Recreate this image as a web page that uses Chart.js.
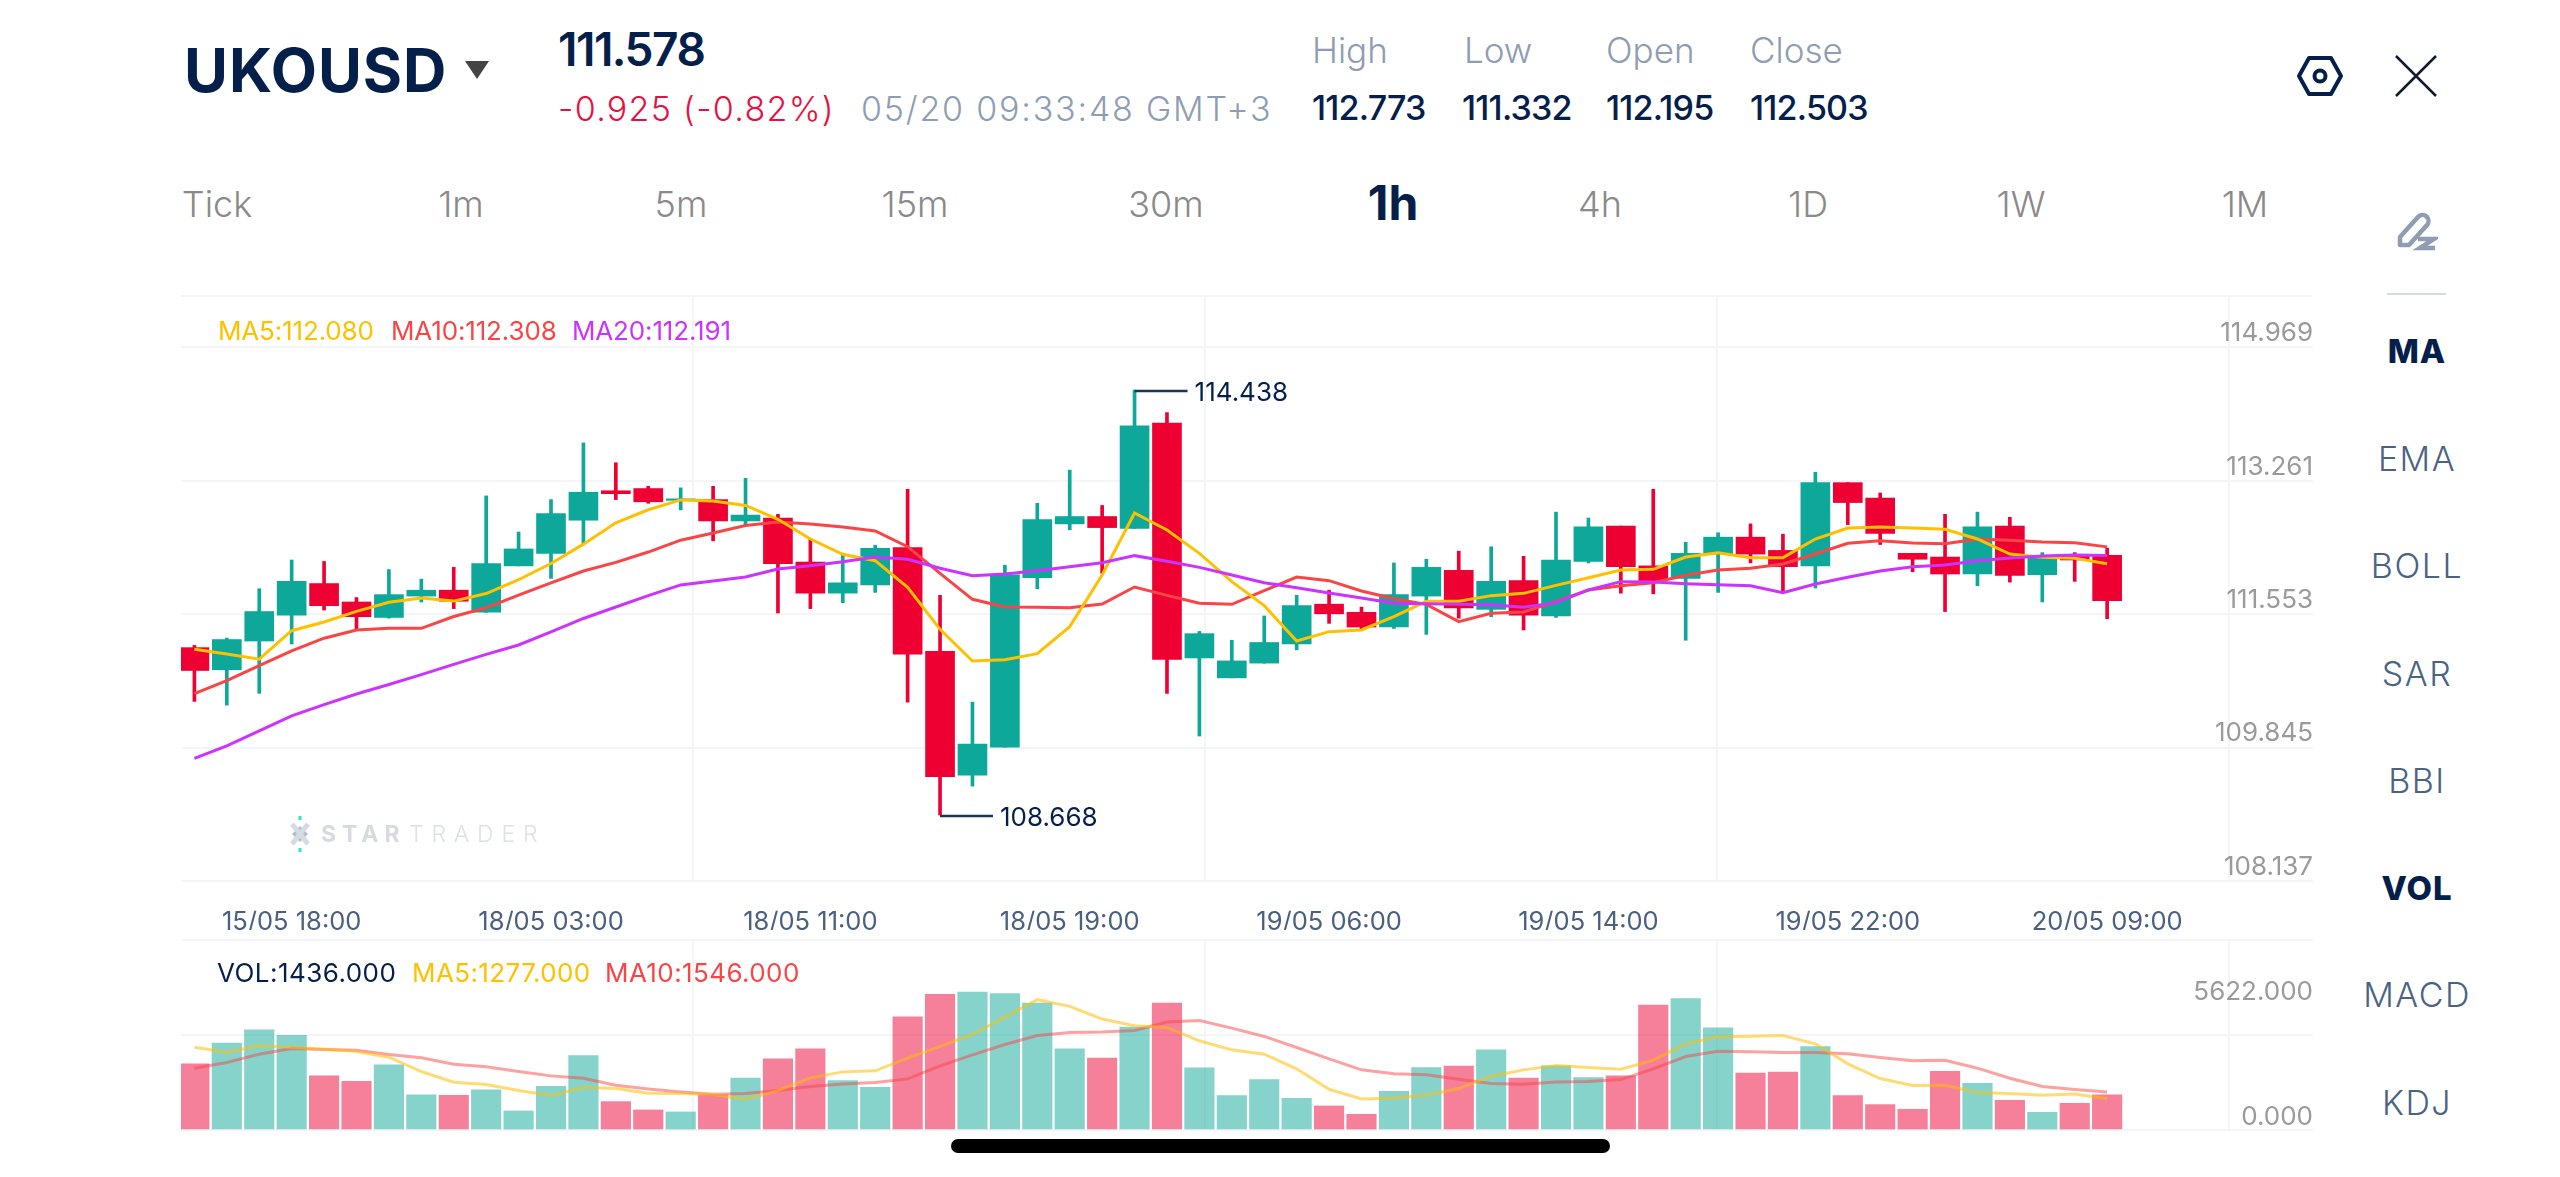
<!DOCTYPE html>
<html>
<head>
<meta charset="utf-8">
<title>UKOUSD 1h</title>
<script src="https://cdn.jsdelivr.net/npm/chart.js@4/dist/chart.umd.min.js"></script>
<style>
  html, body { margin: 0; padding: 0; background: #fff; }
  body { width: 2560px; height: 1177px; position: relative; overflow: hidden; font-family: Inter, sans-serif; }
  canvas { position: absolute; }
  .t { position: absolute; white-space: nowrap; line-height: 1; transform: translateY(-50%); }
  .c { transform: translate(-50%, -50%); }
  .navy { color: #04204a; }
  .slate { color: #8e9db3; font-weight: 300; }
  .tf { color: #8a8a8a; font-size: 36px; font-weight: 300; top: 204px; }
  .ind { color: #4a6385; font-size: 34px; font-weight: 300; left: 2417px; letter-spacing: 1.5px; }
  .ind.on { color: #04204a; font-weight: 800; font-size: 33px; letter-spacing: 1px; }
  .stat { color: #04204a; font-size: 34px; font-weight: 500; top: 108px; letter-spacing: -0.8px; }
  .lab { font-size: 35px; top: 50px; }
  .leg { font-size: 26px; font-weight: 400; letter-spacing: -.15px; }
</style>
</head>
<body>

<div class="t navy" style="left:184px;top:70px;font-size:60px;font-weight:700;letter-spacing:1px;">UKOUSD</div>
<svg style="position:absolute;left:465px;top:61px" width="24" height="18"><path d="M0 0H24L12 18Z" fill="#444"/></svg>
<div class="t navy" style="left:558px;top:49px;font-size:46px;font-weight:600;letter-spacing:-1.5px;">111.578</div>
<div class="t" style="left:558px;top:109px;font-size:34px;font-weight:300;color:#e8103f;letter-spacing:1.3px;">-0.925 (-0.82%)</div>
<div class="t slate" style="left:861px;top:109px;font-size:34px;letter-spacing:1.8px;">05/20 09:33:48 GMT+3</div>

<div class="t slate lab" style="left:1312px;">High</div>
<div class="t slate lab" style="left:1464px;">Low</div>
<div class="t slate lab" style="left:1606px;">Open</div>
<div class="t slate lab" style="left:1750px;">Close</div>
<div class="t stat" style="left:1312px;">112.773</div>
<div class="t stat" style="left:1462px;">111.332</div>
<div class="t stat" style="left:1606px;">112.195</div>
<div class="t stat" style="left:1750px;">112.503</div>

<svg style="position:absolute;left:2290px;top:50px" width="60" height="52" fill="none" stroke="#04204a" stroke-width="4">
  <path d="M19 8H41L51 26L41 44H19L9 26Z" stroke-linejoin="round"/><circle cx="30" cy="26" r="5.5"/>
</svg>
<svg style="position:absolute;left:2392px;top:52px" width="48" height="48" stroke="#111a2c" stroke-width="2.5">
  <path d="M4 4L44 44M44 4L4 44"/>
</svg>
<svg style="position:absolute;left:2396px;top:210px" width="42" height="44" fill="none">
  <path d="M4 27L22 7a6 6 0 0 1 9 8L13 35H4Z" stroke="#8e9db3" stroke-width="4.5" stroke-linejoin="round"/>
  <path d="M22 29H38L24 38H39" stroke="#8e9db3" stroke-width="4.5"/>
</svg>
<div style="position:absolute;left:2387px;top:293px;width:59px;height:2px;background:#d5dae3;"></div>

<div class="t c tf" style="left:217px;">Tick</div>
<div class="t c tf" style="left:461px;">1m</div>
<div class="t c tf" style="left:681px;">5m</div>
<div class="t c tf" style="left:915px;">15m</div>
<div class="t c tf" style="left:1166px;">30m</div>
<div class="t c navy" style="left:1393px;top:203px;font-size:48px;font-weight:700;">1h</div>
<div class="t c tf" style="left:1600px;">4h</div>
<div class="t c tf" style="left:1808px;">1D</div>
<div class="t c tf" style="left:2021px;">1W</div>
<div class="t c tf" style="left:2245px;">1M</div>

<div class="t c ind on" style="top:351px;">MA</div>
<div class="t c ind" style="top:459px;">EMA</div>
<div class="t c ind" style="top:566px;">BOLL</div>
<div class="t c ind" style="top:674px;">SAR</div>
<div class="t c ind" style="top:781px;">BBI</div>
<div class="t c ind on" style="top:888px;">VOL</div>
<div class="t c ind" style="top:995px;">MACD</div>
<div class="t c ind" style="top:1103px;">KDJ</div>

<canvas id="price-chart" width="2132" height="636" style="left:181px;top:294px"></canvas>
<canvas id="volume-chart" width="2132" height="194" style="left:181px;top:938px"></canvas>

<div class="t leg" style="left:218px;top:331px;color:#ffc000;">MA5:112.080</div>
<div class="t leg" style="left:391px;top:331px;color:#f94545;">MA10:112.308</div>
<div class="t leg" style="left:572px;top:331px;color:#cc33ff;">MA20:112.191</div>
<div class="t leg" style="left:217px;top:973px;color:#04204a;letter-spacing:.45px;">VOL:1436.000</div>
<div class="t leg" style="left:412px;top:973px;color:#ffc000;letter-spacing:.4px;">MA5:1277.000</div>
<div class="t leg" style="left:605px;top:973px;color:#f94545;letter-spacing:.4px;">MA10:1546.000</div>

<!-- watermark -->
<svg style="position:absolute;left:284px;top:816px" width="32" height="36">
  <path d="M16 10L24 18L16 26L8 18Z" fill="#b4bccb"/>
  <path d="M8 8L24 28M24 8L8 28" stroke="#d5dae3" stroke-width="5"/>
  <rect x="14.5" y="0" width="3" height="4" fill="#3fdcdc"/><rect x="14.5" y="32" width="3" height="4" fill="#3fdcdc"/>
</svg>
<div class="t" style="left:321px;top:834px;font-size:23px;font-weight:700;color:#d5dae3;letter-spacing:6px;">STAR</div>
<div class="t" style="left:409px;top:834px;font-size:23px;font-weight:300;color:#dde1e8;letter-spacing:7.8px;">TRADER</div>

<!-- home bar -->
<div style="position:absolute;left:951px;top:1139px;width:659px;height:14px;border-radius:7px;background:#000;"></div>

<script>
// hourly candles, oldest first
const opens = [110.94,110.64,111.03,111.38,111.81,111.56,111.35,111.64,111.72,111.42,
  112.05,112.22,112.67,113.07,113.10,112.94,112.95,112.66,112.70,112.10,
  111.68,111.79,112.30,110.89,109.21,109.59,111.89,112.62,112.72,112.56,
  113.99,110.80,110.53,110.73,110.99,111.53,111.42,111.22,111.64,111.99,
  111.46,111.85,111.37,112.11,112.59,112.05,111.88,112.21,112.44,112.26,
  112.05,113.18,112.97,112.22,112.17,111.94,112.59,111.93,112.20,112.195];
const highs = [110.97,111.07,111.74,112.13,112.11,111.62,112.00,111.87,112.03,113.00,
  112.51,112.95,113.72,113.45,113.13,113.11,113.13,113.24,112.75,112.42,
  112.20,112.33,113.09,111.65,110.20,112.06,112.90,113.35,112.87,114.438,
  114.13,111.16,111.04,111.37,111.65,111.72,111.49,112.09,112.14,112.25,
  112.31,112.18,112.78,112.70,112.59,113.09,112.37,112.50,112.62,112.48,
  113.32,113.18,113.04,112.22,112.75,112.78,112.71,112.23,112.23,112.29];
const lows = [110.21,110.16,110.32,110.99,111.45,111.18,111.34,111.56,111.47,111.42,
  112.05,111.88,112.35,112.95,112.90,112.81,112.39,112.61,111.41,111.47,
  111.55,111.69,110.20,108.668,109.06,109.59,111.74,112.54,111.95,112.56,
  110.32,109.74,110.53,110.73,110.91,111.27,111.19,111.20,111.12,111.34,
  111.36,111.18,111.35,112.09,111.68,111.67,111.04,111.69,112.09,111.70,
  111.75,112.61,112.34,111.97,111.43,111.78,111.83,111.56,111.84,111.332];
const closes = [110.63,111.05,111.43,111.84,111.51,111.36,111.66,111.72,111.57,112.08,
  112.28,112.76,113.05,113.03,112.92,112.96,112.66,112.74,112.08,111.68,
  111.82,112.29,110.85,109.19,109.63,111.93,112.68,112.72,112.57,113.95,
  110.78,111.13,110.76,111.01,111.51,111.40,111.22,111.66,112.03,111.48,
  111.84,111.38,112.13,112.58,112.04,111.85,112.22,112.44,112.21,112.04,
  113.18,112.91,112.49,112.14,111.94,112.58,111.92,112.19,112.13,111.578];

const ma5 = [110.917,110.853,110.783,111.170,111.288,111.433,111.556,111.615,111.572,111.674,
  111.862,112.082,112.345,112.635,112.812,112.946,112.930,112.871,112.683,112.415,
  112.207,112.121,111.759,111.189,110.759,110.777,110.858,111.225,111.926,112.768,
  112.537,112.220,111.836,111.510,111.030,111.157,111.180,111.361,111.569,111.569,
  111.646,111.677,111.786,111.890,111.994,112.003,112.171,112.229,112.162,112.162,
  112.415,112.564,112.578,112.564,112.546,112.415,112.211,112.166,112.153,112.080];
const ma10 = [110.316,110.493,110.697,110.896,111.068,111.180,111.202,111.202,111.363,111.481,
  111.653,111.819,111.980,112.098,112.238,112.399,112.496,112.597,112.646,112.619,
  112.578,112.524,112.311,111.949,111.596,111.492,111.487,111.483,111.532,111.763,
  111.650,111.542,111.528,111.713,111.899,111.849,111.709,111.605,111.528,111.293,
  111.406,111.424,111.564,111.723,111.781,111.822,111.922,111.994,112.017,112.076,
  112.211,112.356,112.392,112.361,112.352,112.415,112.397,112.374,112.365,112.308];
const ma20 = [109.436,109.607,109.811,110.015,110.166,110.311,110.440,110.574,110.713,110.848,
  110.976,111.154,111.336,111.492,111.647,111.792,111.846,111.900,112.007,112.053,
  112.107,112.171,112.139,112.017,111.917,111.940,111.985,112.039,112.094,112.189,
  112.112,112.030,111.926,111.822,111.754,111.682,111.614,111.542,111.537,111.528,
  111.523,111.487,111.551,111.723,111.836,111.831,111.809,111.795,111.781,111.686,
  111.804,111.895,111.981,112.039,112.062,112.121,112.157,112.184,112.198,112.191];

const volumes = [2695,3539,4083,3852,2205,1987,2654,1429,1415,1633,
  776,1783,3035,1157,817,735,1429,2110,2899,3307,
  2014,1742,4614,5526,5622,5553,5172,3307,2926,4192,
  5172,2531,1402,2055,1293,980,640,1579,2545,2600,
  3266,2110,2613,2137,2205,5090,5349,4165,2314,2355,
  3403,1402,1034,844,2395,1905,1211,721,1089,1436];
const volMa5 = [3375,3171,3430,3375,3294,3198,2967,2382,1946,1851,
  1606,1402,1742,1688,1497,1483,1443,1252,1606,2123,
  2368,2409,2926,3403,3892,4600,5308,5036,4519,4246,
  4178,3634,3266,3089,2491,1660,1266,1307,1415,1688,
  2191,2450,2627,2545,2477,2844,3498,3797,3824,3852,
  3511,2695,2096,1810,1824,1524,1483,1415,1470,1277];
const volMa10 = [2518,2749,3089,3321,3280,3253,3076,2940,2681,2572,
  2382,2205,2110,1824,1674,1552,1456,1483,1606,1769,
  1878,1933,2082,2613,3062,3484,3852,3974,3988,4056,
  4396,4464,4151,3811,3362,2899,2450,2287,2246,2069,
  1892,1865,1960,1973,2055,2491,2994,3212,3185,3158,
  3158,3103,2953,2817,2844,2518,2110,1769,1647,1546];

// bottom axis: label every 8th candle
const timeIndexes = [3, 11, 19, 27, 35, 43, 51, 59];
const timeLabels = ['15/05 18:00', '18/05 03:00', '18/05 11:00', '18/05 19:00',
  '19/05 06:00', '19/05 14:00', '19/05 22:00', '20/05 09:00'];

const priceTicks = [108.137, 109.845, 111.553, 113.261, 114.969];
const priceRailTop = 115.627;
const volumeTicks = [0, 5622];
const volumeGrid = [3870, 7740];

const UP = '#0ea89a', DOWN = '#ee0033';
const UP_SOFT = 'rgba(14,168,154,.5)', DOWN_SOFT = 'rgba(238,0,51,.5)';
const GRID = '#f4f5f7';
const FONT = 'Inter, sans-serif';

const XMIN = -0.4133, XMAX = 65.35;
const isUp = i => closes[i] >= opens[i];
const points = arr => arr.map((y, x) => ({ x, y }));

function line(data, color, yAxisID, order, width) {
  return { type: 'line', data: points(data), borderColor: color, borderWidth: width || 3,
    pointRadius: 0, tension: 0, yAxisID, xAxisID: 'x', order };
}

// the layout otherwise reserves room for half a label at each axis end
function pin(scale, width, height) {
  if (width !== undefined) scale.width = width;
  if (height !== undefined) scale.height = height;
  scale.paddingTop = scale.paddingBottom = scale.paddingLeft = scale.paddingRight = 0;
}

// light vertical lines, shared by both panels
const railAxis = {
  type: 'linear', position: 'top', min: 0, max: 4.164,
  grid: { color: GRID, lineWidth: 2, drawTicks: false },
  border: { display: false },
  ticks: { display: false },
  afterBuildTicks: s => { s.ticks = [1, 2, 3, 4].map(value => ({ value })); },
  afterFit: s => pin(s, undefined, 0)
};

// 114.438 / 108.668 callouts on the extreme wicks
const extremes = {
  id: 'extremes',
  afterDatasetsDraw(chart) {
    const { ctx, scales } = chart;
    const hi = highs.indexOf(Math.max(...highs));
    const lo = lows.indexOf(Math.min(...lows));
    [[hi, highs[hi]], [lo, lows[lo]]].forEach(([i, v]) => {
      const x = scales.x.getPixelForValue(i), y = scales.y.getPixelForValue(v);
      ctx.save();
      ctx.strokeStyle = '#1f3557';
      ctx.lineWidth = 2.5;
      ctx.beginPath();
      ctx.moveTo(x, y + 1);
      ctx.lineTo(x + 53, y + 1);
      ctx.stroke();
      ctx.fillStyle = '#04204a';
      ctx.font = '400 26px ' + FONT;
      ctx.textBaseline = 'middle';
      ctx.fillText(v.toFixed(3), x + 60, y + 3);
      ctx.restore();
    });
  }
};

new Chart(document.getElementById('price-chart'), {
  data: {
    datasets: [
      line(ma20, '#cc33ff', 'y', 1),
      line(ma5, '#ffc000', 'y', 2),
      line(ma10, '#f94545', 'y', 3),
      { type: 'bar', grouped: false, order: 4, barThickness: 29, xAxisID: 'x', yAxisID: 'y',
        data: opens.map((o, i) => ({ x: i, y: [o, closes[i]] })),
        backgroundColor: opens.map((o, i) => isUp(i) ? UP : DOWN) },
      { type: 'bar', grouped: false, order: 5, barThickness: 3, xAxisID: 'x', yAxisID: 'y',
        data: lows.map((l, i) => ({ x: i, y: [l, highs[i]] })),
        backgroundColor: lows.map((l, i) => isUp(i) ? UP : DOWN) }
    ]
  },
  plugins: [extremes],
  options: {
    responsive: false, animation: false, events: [],
    layout: { padding: { top: 2 } },
    plugins: { legend: { display: false }, tooltip: { enabled: false } },
    scales: {
      x: {
        type: 'linear', position: 'bottom', min: XMIN, max: XMAX, offset: false,
        grid: { display: false }, border: { display: false },
        afterBuildTicks: s => { s.ticks = timeIndexes.map(value => ({ value })); },
        afterFit: s => pin(s, undefined, 49),
        ticks: {
          autoSkip: false, maxRotation: 0, padding: 18, color: '#4a6080',
          font: { family: FONT, size: 25.5, weight: '400' },
          callback: v => timeLabels[timeIndexes.indexOf(v)]
        }
      },
      xRail: railAxis,
      // candles and moving averages
      y: { display: false, min: 107.772, max: 115.714 },
      // price rail on the right, labels sit just above their lines
      yRail: {
        type: 'linear', position: 'right', min: 108.137, max: priceRailTop,
        grid: { color: GRID, lineWidth: 2, drawTicks: false },
        border: { display: false },
        afterBuildTicks: s => { s.ticks = [...priceTicks, priceRailTop].map(value => ({ value })); },
        afterFit: s => pin(s, 0),
        ticks: {
          autoSkip: false, mirror: true, padding: 0, labelOffset: -14, color: '#9a9a9a',
          font: { family: FONT, size: 26, weight: '400' },
          callback: v => priceTicks.includes(v) ? v.toFixed(3) : ''
        }
      }
    }
  }
});

new Chart(document.getElementById('volume-chart'), {
  data: {
    datasets: [
      line(volMa5, 'rgba(255,192,0,.55)', 'y', 1),
      line(volMa10, 'rgba(249,69,69,.5)', 'y', 2),
      { type: 'bar', grouped: false, order: 3, barThickness: 29.5, xAxisID: 'x', yAxisID: 'y',
        data: points(volumes),
        backgroundColor: volumes.map((v, i) => isUp(i) ? UP_SOFT : DOWN_SOFT) }
    ]
  },
  options: {
    responsive: false, animation: false, events: [],
    layout: { padding: { top: 2, bottom: 2 } },
    plugins: { legend: { display: false }, tooltip: { enabled: false } },
    scales: {
      x: { type: 'linear', display: false, min: XMIN, max: XMAX, offset: false },
      xRail: railAxis,
      y: {
        type: 'linear', position: 'right', min: 0, max: volumeGrid[1],
        grid: {
          lineWidth: 2, drawTicks: false,
          color: c => c.tick.value === volumeTicks[1] ? 'transparent' : GRID
        },
        border: { display: false },
        afterBuildTicks: s => { s.ticks = [0, volumeGrid[0], volumeTicks[1], volumeGrid[1]].map(value => ({ value })); },
        afterFit: s => pin(s, 0),
        ticks: {
          autoSkip: false, mirror: true, padding: 0, color: '#9a9a9a',
          font: { family: FONT, size: 26, weight: '400', lineHeight: 1 },
          // the 0 label rides above the base line
          callback: v => v === 0 ? ['0.000', ''] : (volumeTicks.includes(v) ? v.toFixed(3) : '')
        }
      }
    }
  }
});
</script>
</body>
</html>
